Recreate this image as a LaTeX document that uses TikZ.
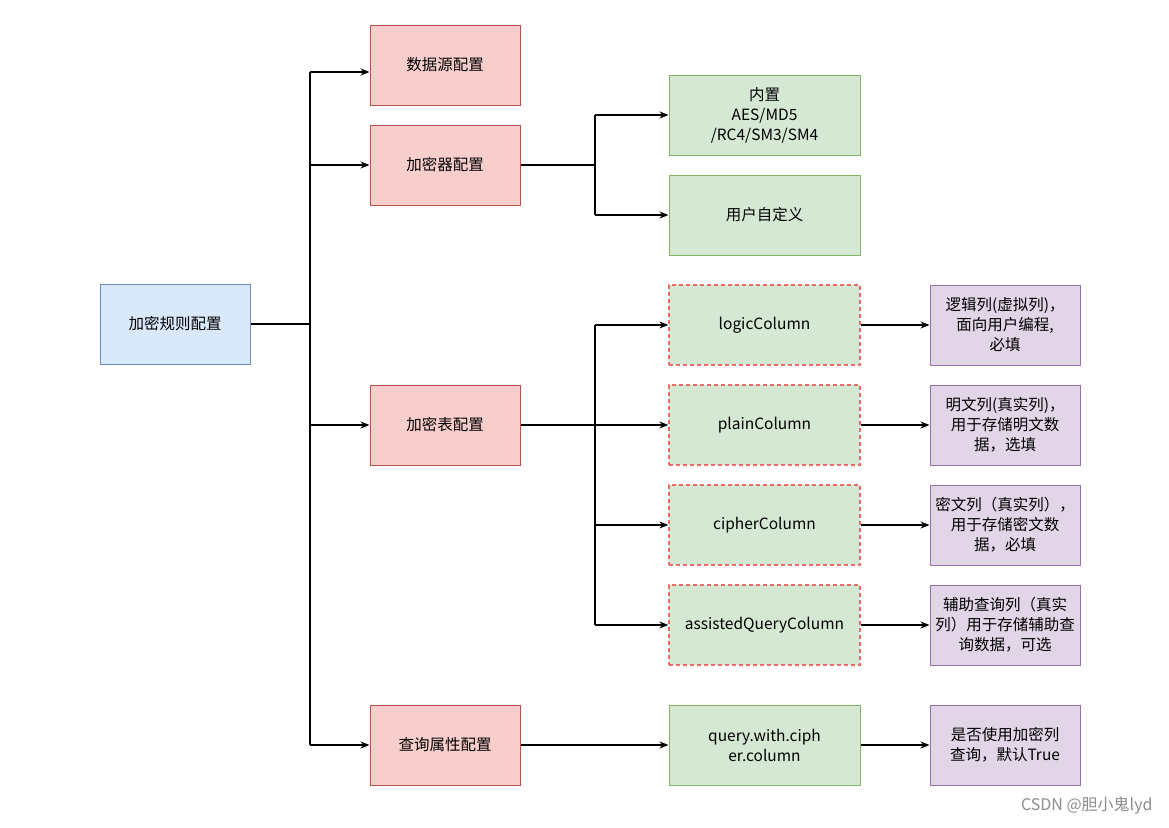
\documentclass[tikz,border=0pt]{standalone}
\usepackage{fontspec}
\setmainfont{Noto Sans CJK SC}
\usetikzlibrary{arrows.meta}
\definecolor{redfill}{HTML}{F8CECC}
\definecolor{redline}{HTML}{B85450}
\definecolor{greenfill}{HTML}{D5E8D4}
\definecolor{greenline}{HTML}{82B366}
\definecolor{bluefill}{HTML}{DAE8FC}
\definecolor{blueline}{HTML}{6C8EBF}
\definecolor{purpfill}{HTML}{E1D5E7}
\definecolor{purpline}{HTML}{9673A6}
\definecolor{dashred}{HTML}{EA6B66}
\tikzset{
  box/.style={draw, line width=1pt, minimum width=150pt, minimum height=80pt, align=center, inner sep=2pt, font=\fontsize{15.5pt}{20pt}\selectfont},
  redbox/.style={box, fill=redfill, draw=redline},
  bluebox/.style={box, fill=bluefill, draw=blueline},
  greenbox/.style={box, fill=greenfill, draw=greenline, minimum width=191pt},
  colbox/.style={box, fill=greenfill, draw=dashred, line width=1.3pt, dash pattern=on 4pt off 3pt, minimum width=191pt},
  purpbox/.style={box, fill=purpfill, draw=purpline, text width=146pt},
  conn/.style={draw=black, line width=1.2pt},
  arr/.style={conn, -{Stealth[length=9pt,width=7pt]}}
}
\begin{document}
\begin{tikzpicture}[x=1pt,y=-1pt]
\useasboundingbox[fill=white] (0,0) rectangle (1169,827);
\node[bluebox] (root) at (175,324) {加密规则配置};
\node[redbox] (ds) at (445,65) {数据源配置};
\node[redbox] (enc) at (445,165) {加密器配置};
\node[redbox] (tbl) at (445,425) {加密表配置};
\node[redbox] (qry) at (445,745) {查询属性配置};
\node[greenbox] (builtin) at (764.5,115) {内置\\AES/MD5\\/RC4/SM3/SM4};
\node[greenbox] (custom) at (764.5,215) {用户自定义};
\node[colbox] (logic) at (764.5,325) {logicColumn};
\node[colbox] (plain) at (764.5,425) {plainColumn};
\node[colbox] (cipher) at (764.5,525) {cipherColumn};
\node[colbox] (assist) at (764.5,625) {assistedQueryColumn};
\node[greenbox] (qwc) at (764.5,745) {query.with.ciph\\er.column};
\node[purpbox] (p1) at (1005,325) {逻辑列(虚拟列)，\\面向用户编程,\\必填};
\node[purpbox] (p2) at (1005,425) {明文列(真实列)，\\用于存储明文数\\据，选填};
\node[purpbox] (p3) at (1005,525) {密文列（真实列），\\用于存储密文数\\据，必填};
\node[purpbox] (p4) at (1005,625) {辅助查询列（真实\\列）用于存储辅助查\\询数据，可选};
\node[purpbox] (p5) at (1005,745) {是否使用加密列\\查询，默认True};
\coordinate (t0) at (310,324);
\coordinate (tds) at (310,72);
\coordinate (tqry) at (310,745);
\coordinate (e0) at (595,165);
\coordinate (b0) at (595,425);
% root trunk
\draw[conn] (root.east) -- (t0);
\draw[conn] (tds) -- (tqry);
\draw[arr] (tds) -- (tds -| ds.west);
\draw[arr] (t0 |- enc) -- (enc.west);
\draw[arr] (t0 |- tbl) -- (tbl.west);
\draw[arr] (tqry) -- (tqry -| qry.west);
% encryptor branch
\draw[conn] (enc.east) -- (e0);
\draw[conn] (e0 |- builtin) -- (e0 |- custom);
\draw[arr] (e0 |- builtin) -- (builtin.west);
\draw[arr] (e0 |- custom) -- (custom.west);
% table branch
\draw[conn] (tbl.east) -- (b0);
\draw[conn] (b0 |- logic) -- (b0 |- assist);
\draw[arr] (b0 |- logic) -- (logic.west);
\draw[arr] (b0 |- plain) -- (plain.west);
\draw[arr] (b0 |- cipher) -- (cipher.west);
\draw[arr] (b0 |- assist) -- (assist.west);
% query
\draw[arr] (qry.east) -- (qwc.west);
% to descriptions
\draw[arr] (logic.east) -- (p1.west);
\draw[arr] (plain.east) -- (p2.west);
\draw[arr] (cipher.east) -- (p3.west);
\draw[arr] (assist.east) -- (p4.west);
\draw[arr] (qwc.east) -- (p5.west);
\node[text=black!45, font=\fontsize{16pt}{18pt}\selectfont, anchor=east] (wm) at (1156,806) {CSDN @胆小鬼lyd};
\end{tikzpicture}
\end{document}
